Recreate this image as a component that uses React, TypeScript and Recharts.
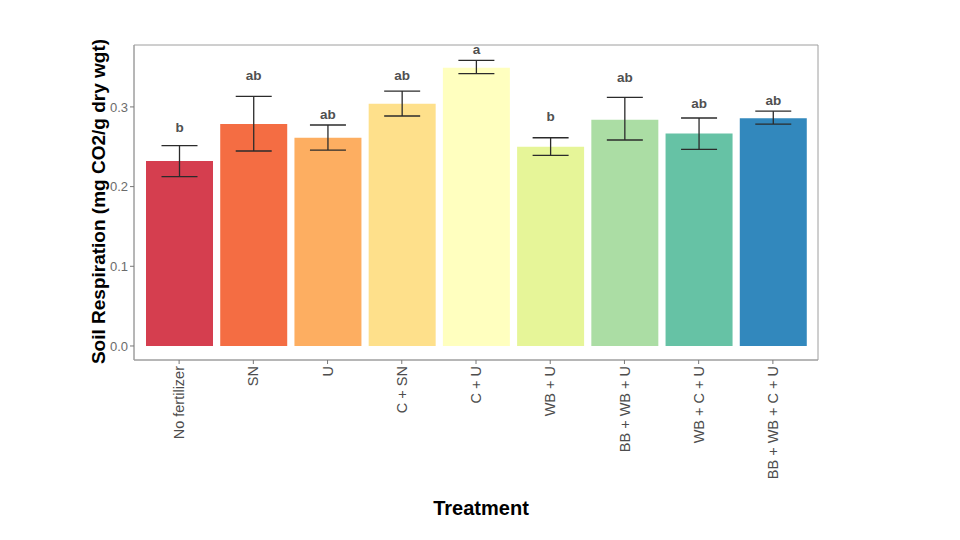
import {
  Bar,
  CartesianGrid,
  Cell,
  ComposedChart,
  ErrorBar,
  Label,
  LabelList,
  XAxis,
  YAxis,
} from "recharts";

const treatments = [
  "No fertilizer",
  "SN",
  "U",
  "C + SN",
  "C + U",
  "WB + U",
  "BB + WB + U",
  "WB + C + U",
  "BB + WB + C + U",
];
const means = [0.232, 0.2785, 0.2614, 0.304, 0.3492, 0.25, 0.284, 0.2666, 0.2857];
const errLow = [0.0195, 0.0338, 0.0155, 0.0154, 0.0075, 0.0108, 0.0255, 0.0198, 0.0072];
const errHigh = [0.0195, 0.0348, 0.0159, 0.0159, 0.0093, 0.0113, 0.028, 0.0195, 0.0089];
const letters = ["b", "ab", "ab", "ab", "a", "b", "ab", "ab", "ab"];
const letterY = [0.2689, 0.3337, 0.2852, 0.3337, 0.3664, 0.2827, 0.3316, 0.2982, 0.3024];
const colors = [
  "#D53E4F",
  "#F46D43",
  "#FDAE61",
  "#FEE08B",
  "#FFFFBF",
  "#E6F598",
  "#ABDDA4",
  "#66C2A5",
  "#3288BD",
];
const yTicks = [0, 0.1, 0.2, 0.3];

const data = treatments.map((t, i) => ({
  treatment: t,
  mean: means[i],
  err: [errLow[i], errHigh[i]],
  letter: letters[i],
  letterY: letterY[i],
}));

const FONT = "'Liberation Sans', Arial, Helvetica, sans-serif";
const BORDER = "#9e9e9e";

function XTick({ x, y, payload }: any) {
  return (
    <g transform={`translate(${x},${y})`}>
      <text
        transform="rotate(-90)"
        textAnchor="end"
        dy="0.35em"
        fontSize={14.5}
        fill="#4d4d4d"
        fontFamily={FONT}
      >
        {payload.value}
      </text>
    </g>
  );
}

// letter sits at letterY, converted through the bar's own pixel scale
function LetterLabel(props: any) {
  const { x, y, width, height, index } = props;
  const v = means[index];
  const zero = y + height;
  const py = zero - (letterY[index] * height) / v;
  return (
    <text
      x={x + width / 2}
      y={py}
      textAnchor="middle"
      fontSize={13.5}
      fontWeight="bold"
      fill="#505050"
      fontFamily={FONT}
    >
      {letters[index]}
    </text>
  );
}

export default function App() {
  return (
    <div
      style={{
        position: "absolute",
        left: 0,
        top: 0,
        width: 960,
        height: 540,
        background: "#fff",
        fontFamily: FONT,
      }}
    >
      <ComposedChart
        width={960}
        height={540}
        data={data}
        margin={{ top: 45, right: 142, bottom: 0, left: 0 }}
        barSize={67}
      >
        <CartesianGrid
          stroke={BORDER}
          horizontalCoordinatesGenerator={({ offset }: any) => [
            offset.top,
            offset.top + offset.height,
          ]}
          verticalCoordinatesGenerator={({ offset }: any) => [
            offset.left,
            offset.left + offset.width,
          ]}
        />
        <XAxis
          dataKey="treatment"
          height={180}
          interval={0}
          padding={{ left: 8, right: 8 }}
          tick={<XTick />}
          tickSize={4}
          tickMargin={2}
          stroke={BORDER}
          tickLine={{ stroke: "#777" }}
        >
          <Label
            content={({ viewBox }: any) => (
              <text
                x={viewBox.x + viewBox.width / 2 + 5}
                y={viewBox.y + 155}
                textAnchor="middle"
                fontSize={20}
                fontWeight="bold"
                fill="#000"
                fontFamily={FONT}
              >
                Treatment
              </text>
            )}
          />
        </XAxis>
        <YAxis
          width={134}
          domain={[-0.0176, 0.3777]}
          allowDataOverflow
          ticks={yTicks}
          tickFormatter={(v: number) => v.toFixed(1)}
          tick={{ fontSize: 13, fill: "#6b6b6b", fontFamily: FONT }}
          tickSize={4}
          tickMargin={2}
          stroke={BORDER}
          tickLine={{ stroke: "#777" }}
        >
          <Label
            content={({ viewBox }: any) => {
              const cx = 98;
              const cy = viewBox.y + viewBox.height / 2 - 1;
              return (
                <text
                  x={cx}
                  y={cy}
                  transform={`rotate(-90, ${cx}, ${cy})`}
                  textAnchor="middle"
                  dy="0.35em"
                  fontSize={19}
                  fontWeight="bold"
                  fill="#000"
                  fontFamily={FONT}
                >
                  Soil Respiration (mg CO2/g dry wgt)
                </text>
              );
            }}
          />
        </YAxis>
        <Bar dataKey="mean" isAnimationActive={false}>
          {data.map((d, i) => (
            <Cell key={d.treatment} fill={colors[i]} />
          ))}
          <ErrorBar
            dataKey="err"
            width={18}
            stroke="#2b2b2b"
            strokeWidth={1.3}
            isAnimationActive={false}
          />
          <LabelList dataKey="letter" content={<LetterLabel />} />
        </Bar>
      </ComposedChart>
    </div>
  );
}
